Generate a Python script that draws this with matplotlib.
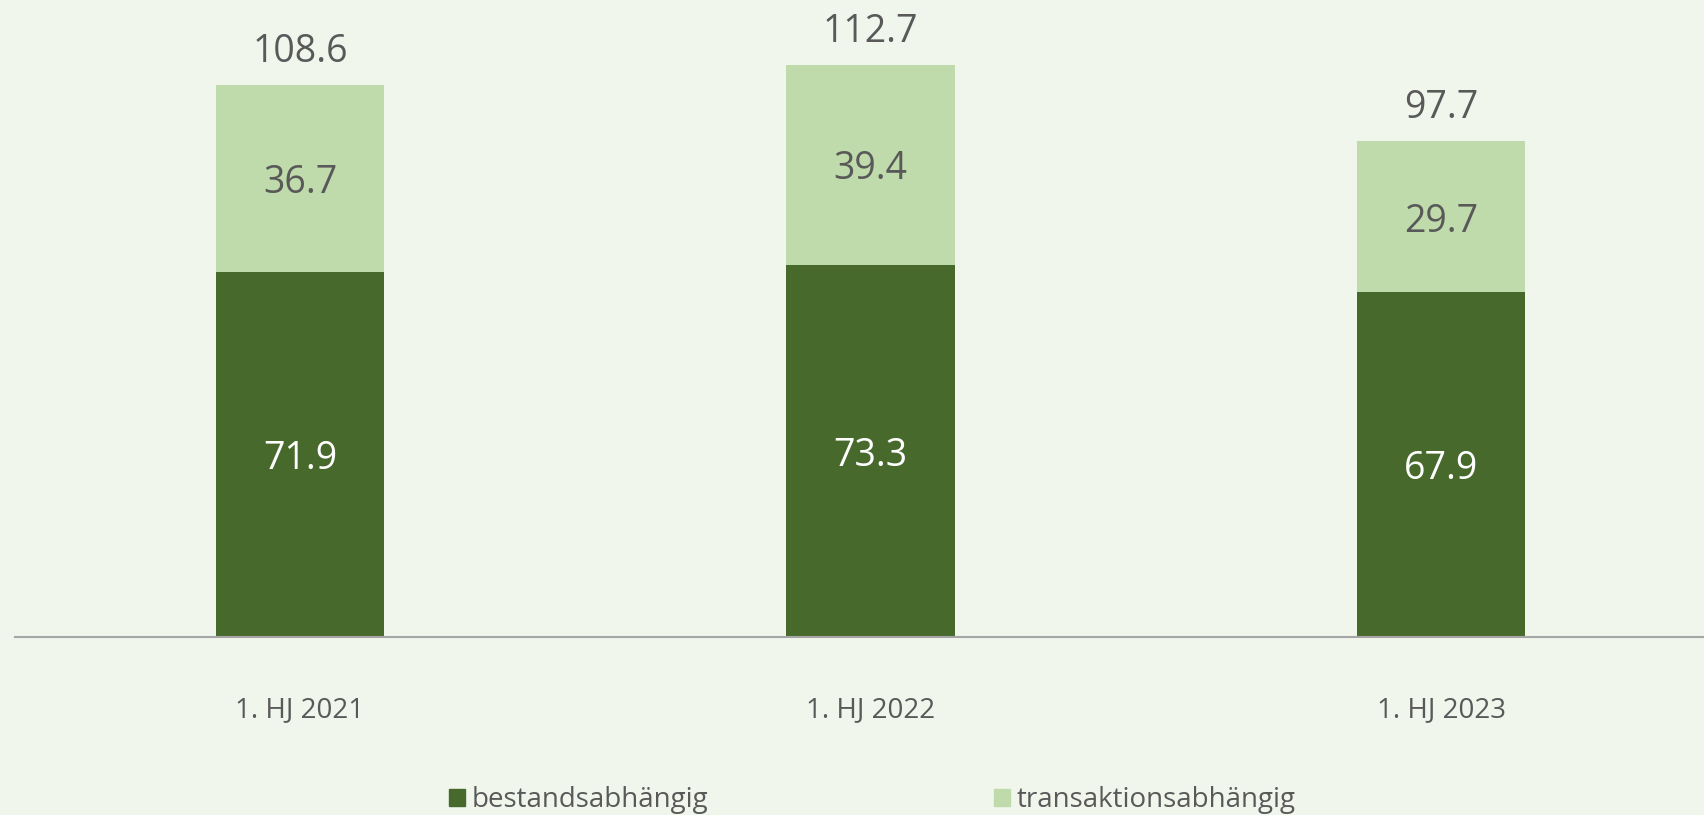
import matplotlib.pyplot as plt
from matplotlib.patches import Patch

categories = ["1. HJ 2021", "1. HJ 2022", "1. HJ 2023"]
bestand = [71.9, 73.3, 67.9]
transaktion = [36.7, 39.4, 29.7]
totals = [108.6, 112.7, 97.7]
series_names = ["bestandsabhängig", "transaktionsabhängig"]

BG = "#F1F6EC"
DARK = "#47692C"
LIGHT = "#C0DBAB"
TEXT = "#595959"

plt.rcParams["font.family"] = ["Open Sans", "DejaVu Sans"]

fig = plt.figure(figsize=(17.04, 8.15), dpi=100, facecolor=BG)
ax = fig.add_axes([15 / 1704, 178 / 815, 1 - 15 / 1704, 637 / 815])
ax.set_facecolor(BG)

x = list(range(len(categories)))
w = 0.295
ax.bar(x, bestand, width=w, color=DARK)
ax.bar(x, transaktion, width=w, bottom=bestand, color=LIGHT)

for i in x:
    ax.annotate(f"{bestand[i]:.1f}", (i, bestand[i] / 2), xytext=(0, -3.5),
                textcoords="offset points", ha="center", va="center",
                color="white", fontsize=27)
    ax.annotate(f"{transaktion[i]:.1f}", (i, bestand[i] + transaktion[i] / 2),
                xytext=(0, -3.5), textcoords="offset points", ha="center",
                va="center", color=TEXT, fontsize=27)
    ax.annotate(f"{totals[i]:.1f}", (i, totals[i]), xytext=(0, 10),
                textcoords="offset points", ha="center", va="bottom",
                color=TEXT, fontsize=27)
    ax.text(i, -14.4, categories[i], ha="center", va="center", color=TEXT, fontsize=20)

ax.set_xlim(-0.4996, 2.461)
ax.set_ylim(0, 125.4)
for s in ["top", "right", "left"]:
    ax.spines[s].set_visible(False)
ax.spines["bottom"].set_color("#A6A6A6")
ax.spines["bottom"].set_linewidth(1.5)
ax.set_xticks([])
ax.set_yticks([])

handles = [Patch(color=DARK), Patch(color=LIGHT)]
fig.legend(handles, series_names, loc="center", bbox_to_anchor=(0.512, 0.018),
           ncol=2, frameon=False, fontsize=20, labelcolor=TEXT,
           handlelength=0.55, handleheight=0.55, handletextpad=0.25,
           columnspacing=10.3)

fig.savefig("out.png", dpi=100, facecolor=BG)
